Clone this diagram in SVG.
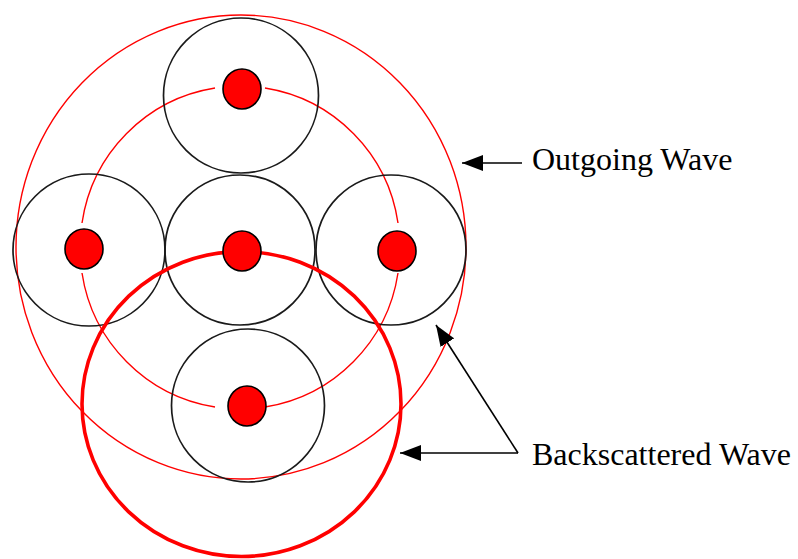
<svg xmlns="http://www.w3.org/2000/svg" width="798" height="559" viewBox="0 0 798 559">
<style>
.cell{fill:none;stroke:#1a1a1a;stroke-width:1.7}
.wave{fill:none;stroke:#ff0000;stroke-width:1.4}
.back{fill:none;stroke:#ff0000;stroke-width:3.6}
.dot{fill:#ff0000;stroke:#000;stroke-width:1.6}
.arr{fill:none;stroke:#000;stroke-width:1.6;marker-end:url(#ah)}
.lbl{font-family:"Liberation Serif","Times New Roman",serif;font-size:32px;fill:#000}
</style>
<defs>
<marker id="ah" markerUnits="userSpaceOnUse" markerWidth="22" markerHeight="16" viewBox="0 0 22 16" refX="21" refY="8" orient="auto">
<path d="M0,0 L21,8 L0,16 Z" fill="#000"/>
</marker>
</defs>
<rect width="798" height="559" fill="#fff"/>
<g id="waves">
<ellipse id="outgoing-wave" class="wave" cx="241" cy="247" rx="225" ry="232"/>
<path id="middle-wave" class="wave" d="M265,88 A160,160 0 0 1 398,223 M398,273 A160,160 0 0 1 265,407 M215,407 A160,160 0 0 1 82,273 M82,223 A160,160 0 0 1 215,88"/>
</g>
<g id="cell-top"><circle class="cell" cx="241" cy="95.5" r="77.5"/></g>
<g id="cell-left"><circle class="cell" cx="89" cy="250" r="76"/></g>
<g id="cell-center"><circle class="cell" cx="240" cy="250" r="75"/></g>
<g id="cell-right"><circle class="cell" cx="391" cy="250" r="75"/></g>
<g id="cell-bottom"><circle class="cell" cx="248" cy="405.5" r="76.5"/></g>
<g id="backscattered-wave"><ellipse class="back" cx="241.5" cy="404" rx="159.5" ry="152.5"/></g>
<g id="dots">
<ellipse class="dot" cx="242" cy="89" rx="19" ry="20"/>
<ellipse class="dot" cx="84" cy="249" rx="19" ry="20"/>
<ellipse class="dot" cx="242" cy="251" rx="19" ry="20"/>
<ellipse class="dot" cx="397" cy="251" rx="19" ry="20"/>
<ellipse class="dot" cx="247" cy="406" rx="19" ry="20"/>
</g>
<g id="connectors">
<line class="arr" x1="522" y1="163" x2="462" y2="163"/>
<line class="arr" x1="518" y1="453" x2="400" y2="453"/>
<line class="arr" x1="518" y1="453" x2="436" y2="325"/>
</g>
<g id="label-outgoing"><text class="lbl" x="532" y="170">Outgoing Wave</text></g>
<g id="label-backscattered"><text class="lbl" x="532" y="465">Backscattered Wave</text></g>
</svg>
